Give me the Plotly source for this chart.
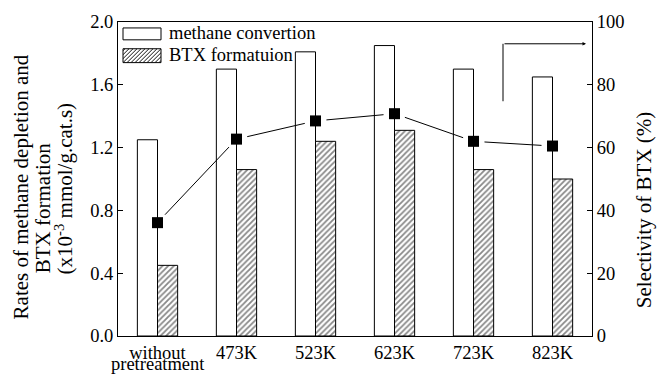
import math
import plotly.graph_objects as go

categories = ["without", "473K", "523K", "623K", "723K", "823K"]
methane_rate = [1.25, 1.70, 1.81, 1.85, 1.70, 1.65]
btx_rate = [0.45, 1.06, 1.24, 1.31, 1.06, 1.00]
btx_selectivity = [36.1, 62.7, 68.5, 70.8, 62.0, 60.5]

W, H = 657, 376
ML, MR, MT, MB = 118, 65, 19, 40
PW, PH = W - ML - MR, H - MT - MB
FONT = "Liberation Serif, Times New Roman, serif"

def px2paper(px, py):
    return (px - ML) / PW, (H - MB - py) / PH

xs = list(range(len(categories)))

fig = go.Figure()
fig.add_trace(go.Bar(
    x=xs, y=methane_rate, name="methane convertion", offsetgroup="a",
    marker=dict(color="white", line=dict(color="black", width=1)),
    showlegend=False))
fig.add_trace(go.Bar(
    x=xs, y=btx_rate, name="BTX formatuion", offsetgroup="b",
    marker=dict(color="white", line=dict(color="black", width=1),
                pattern=dict(shape="/", fgcolor="#111", bgcolor="white",
                             size=4, solidity=0.45)),
    showlegend=False))

# selectivity line with small gaps near markers
px_per_x = PW / 6.0
px_per_y = PH / 100.0
gap = 11.0
lx, ly = [], []
for i in range(len(xs) - 1):
    dxp = px_per_x
    dyp = (btx_selectivity[i + 1] - btx_selectivity[i]) * px_per_y
    L = math.hypot(dxp, dyp)
    t = gap / L
    x0 = xs[i] + t * (xs[i + 1] - xs[i])
    y0 = btx_selectivity[i] + t * (btx_selectivity[i + 1] - btx_selectivity[i])
    x1 = xs[i + 1] - t * (xs[i + 1] - xs[i])
    y1 = btx_selectivity[i + 1] - t * (btx_selectivity[i + 1] - btx_selectivity[i])
    lx += [x0, x1, None]
    ly += [y0, y1, None]
fig.add_trace(go.Scatter(x=lx, y=ly, yaxis="y2", mode="lines",
                         line=dict(color="black", width=1), showlegend=False,
                         hoverinfo="skip"))
fig.add_trace(go.Scatter(x=xs, y=btx_selectivity, yaxis="y2", mode="markers",
                         marker=dict(symbol="square", size=11, color="black"),
                         showlegend=False))

shapes = []
annotations = []

# legend swatches
def rect_shape(x0, y0, x1, y1):
    a = px2paper(x0, y1)
    b = px2paper(x1, y0)
    return dict(type="rect", xref="paper", yref="paper", x0=a[0], y0=a[1],
                x1=b[0], y1=b[1], line=dict(color="black", width=1),
                fillcolor="white", layer="above")

shapes.append(rect_shape(123, 25, 161, 37))
shapes.append(rect_shape(123, 46, 161, 60))
X0, X1, Y0, Y1 = 123, 161, 46, 60
k = X0 + Y0 + 2
while k < X1 + Y1:
    pa = max(X0, k - Y1)
    pb = min(X1, k - Y0)
    if pa < pb:
        a = px2paper(pa, k - pa)
        b = px2paper(pb, k - pb)
        shapes.append(dict(type="line", xref="paper", yref="paper",
                           x0=a[0], y0=a[1], x1=b[0], y1=b[1],
                           line=dict(color="#111", width=1), layer="above"))
    k += 4

for label, py in [("methane convertion", 30), ("BTX formatuion", 52)]:
    x, y = px2paper(167, py)
    annotations.append(dict(text=label, xref="paper", yref="paper", x=x, y=y,
                            xanchor="left", yanchor="middle", showarrow=False,
                            font=dict(family=FONT, size=18.5, color="black")))

# arrow pointing to right axis
a = px2paper(503, 99)
b = px2paper(503, 41)
shapes.append(dict(type="line", xref="paper", yref="paper", x0=a[0], y0=a[1],
                   x1=b[0], y1=b[1], line=dict(color="black", width=1)))
c = px2paper(586, 41)
annotations.append(dict(text="", xref="paper", yref="paper", x=c[0], y=c[1],
                        axref="pixel", ayref="pixel", ax=-83, ay=0,
                        showarrow=True, arrowhead=2, arrowsize=0.7,
                        arrowwidth=1, arrowcolor="black"))

# y-axis titles
for txt, px, py in [("Rates of methane depletion and", 21, 186),
                    ("BTX formation", 43, 207),
                    ("(x10<sup>-3</sup> mmol/g.cat.s)", 64, 188)]:
    x, y = px2paper(px, py)
    annotations.append(dict(text=txt, xref="paper", yref="paper", x=x, y=y,
                            xanchor="center", yanchor="middle", textangle=-90,
                            showarrow=False,
                            font=dict(family=FONT, size=21, color="black")))
x, y = px2paper(644, 209)
annotations.append(dict(text="Selectivity of BTX (%)", xref="paper", yref="paper",
                        x=x, y=y, xanchor="center", yanchor="middle",
                        textangle=-90, showarrow=False,
                        font=dict(family=FONT, size=21, color="black")))
# second line of first category label
x, y = px2paper(0, 364)
annotations.append(dict(text="pretreatment", xref="x", yref="paper", x=0, y=y,
                        xanchor="center", yanchor="middle", showarrow=False,
                        font=dict(family=FONT, size=18.5, color="black")))

fig.update_layout(
    width=W, height=H,
    margin=dict(l=ML, r=MR, t=MT, b=MB, pad=0),
    paper_bgcolor="white", plot_bgcolor="white",
    barmode="group", bargap=0.49, bargroupgap=0,
    font=dict(family=FONT, size=18.5, color="black"),
    xaxis=dict(range=[-0.5, 5.5], tickvals=xs, ticktext=categories,
               showline=True, linecolor="black", linewidth=1, mirror=True,
               ticks="", showgrid=False, zeroline=False,
               tickfont=dict(family=FONT, size=18.5, color="black")),
    yaxis=dict(range=[0, 2.0], tickvals=[0, 0.4, 0.8, 1.2, 1.6, 2.0],
               tickformat=".1f", showline=True, linecolor="black", linewidth=1,
               ticks="inside", ticklen=5, tickcolor="black",
               showgrid=False, zeroline=False,
               tickfont=dict(family=FONT, size=18.5, color="black")),
    yaxis2=dict(range=[0, 100], tickvals=[0, 20, 40, 60, 80, 100],
                overlaying="y", side="right", showline=True, linecolor="black",
                linewidth=1, ticks="inside", ticklen=5, tickcolor="black",
                showgrid=False, zeroline=False,
                tickfont=dict(family=FONT, size=18.5, color="black")),
    shapes=shapes, annotations=annotations,
)

fig.write_html("out.html")
